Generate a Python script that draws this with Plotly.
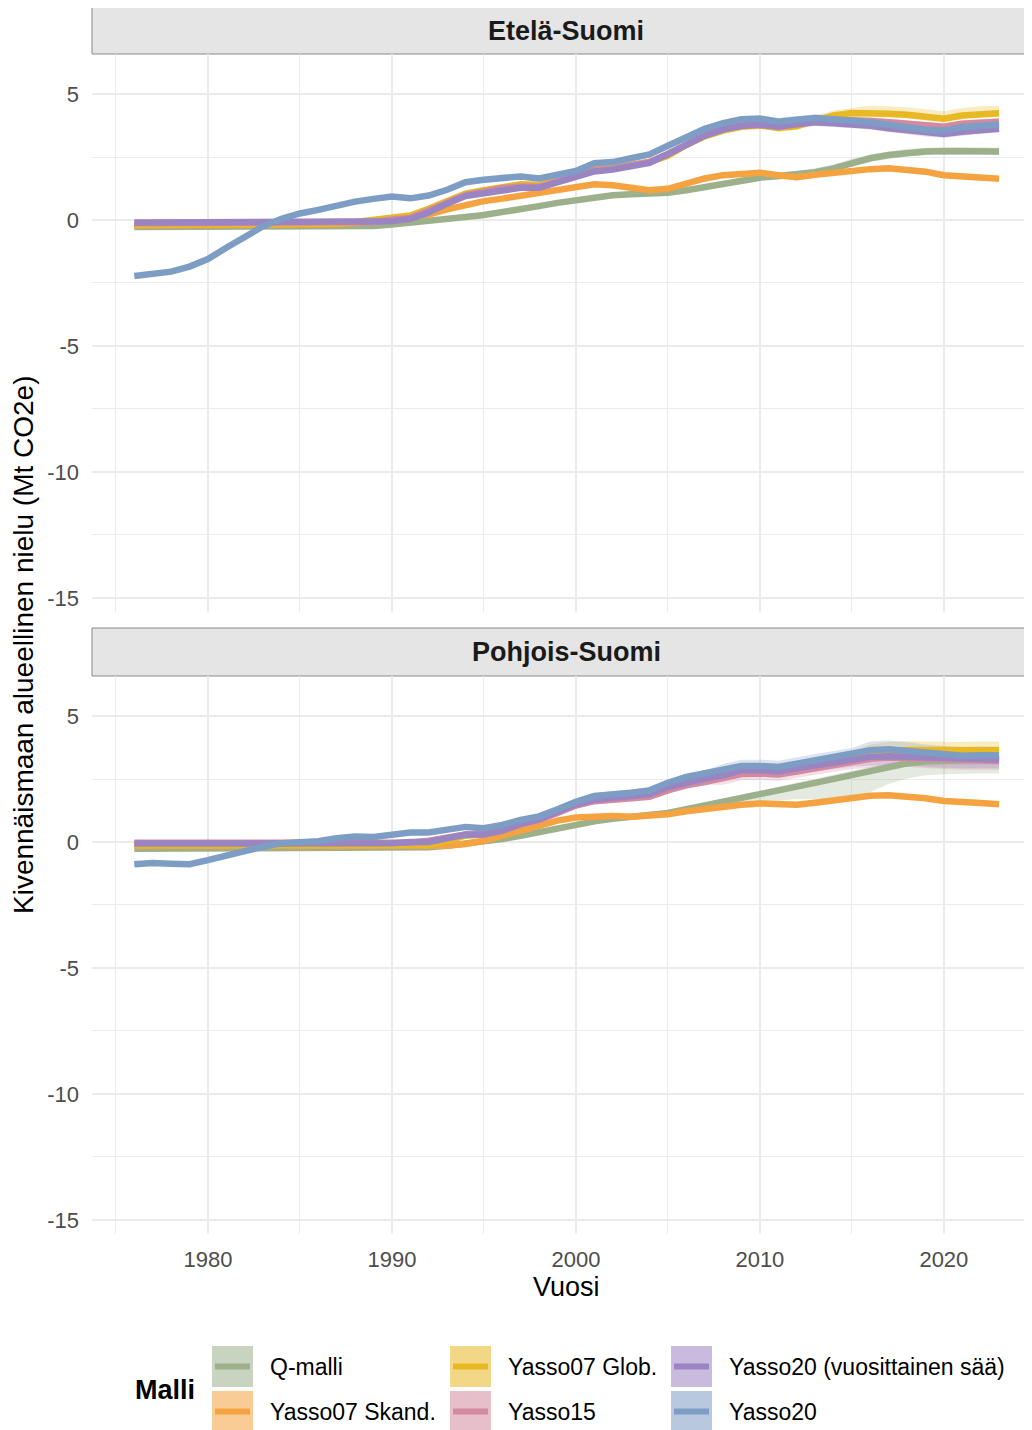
import plotly.graph_objects as go

# ---------------- data ----------------
YEARS = list(range(1976, 2024))
MODELS = ["Q-malli", "Yasso07 Skand.", "Yasso07 Glob.", "Yasso15",
          "Yasso20 (vuosittainen sää)", "Yasso20"]
COLORS = ["#9db08c", "#f4a340", "#e8b923", "#d38aa0", "#9b84c2", "#7d9dc5"]
PANELS = ["Etelä-Suomi", "Pohjois-Suomi"]
Y_TICKS = [5, 0, -5, -10, -15]
Y_TICKTEXT = ["5", "0", "-5", "-10", "-15"]
X_TICKS = [1980, 1990, 2000, 2010, 2020]

# Etelä-Suomi
q_top = [-0.28] * 13 + [-0.24, -0.18, -0.12, -0.05, 0.03, 0.12, 0.2, 0.3, 0.42, 0.55, 0.68, 0.8,
                        0.92, 0.98, 1.02, 1.04, 1.08, 1.18, 1.32, 1.45, 1.58, 1.68, 1.75, 1.8,
                        1.9, 2.05, 2.28, 2.45, 2.58, 2.68, 2.72, 2.74, 2.74, 2.74, 2.72]
skand_top = [-0.22] * 10 + [-0.2, -0.17, -0.12, -0.05, 0.03, 0.1, 0.22, 0.42, 0.6, 0.75, 0.85,
                            0.97, 1.1, 1.22, 1.35, 1.42, 1.38, 1.25, 1.18, 1.24, 1.45, 1.65, 1.78,
                            1.82, 1.88, 1.78, 1.7, 1.8, 1.88, 1.97, 2.02, 2.05, 2.0, 1.92, 1.78,
                            1.72, 1.72, 1.64]
glob_top = [-0.2] * 10 + [-0.18, -0.14, -0.08, 0.0, 0.08, 0.18, 0.45, 0.78, 1.05, 1.18, 1.32,
                          1.42, 1.4, 1.6, 1.8, 2.02, 2.08, 2.18, 2.3, 2.55, 2.98, 3.32, 3.55,
                          3.7, 3.75, 3.65, 3.72, 3.95, 4.15, 4.25, 4.25, 4.22, 4.18, 4.1, 4.02,
                          4.15, 4.22, 4.24]
y15_top = [-0.13] * 13 + [-0.08, 0.02, 0.08, 0.38, 0.72, 1.0, 1.12, 1.27, 1.33, 1.32, 1.53,
                          1.74, 1.98, 2.04, 2.15, 2.3, 2.62, 3.02, 3.36, 3.6, 3.75, 3.8, 3.72,
                          3.83, 3.95, 3.98, 3.97, 3.93, 3.88, 3.82, 3.75, 3.7, 3.82, 3.87, 3.9]
y20v_top = [-0.1] * 14 + [-0.05, 0.05, 0.3, 0.65, 0.95, 1.06, 1.2, 1.28, 1.28, 1.48, 1.68,
                          1.93, 2.0, 2.12, 2.27, 2.62, 3.02, 3.35, 3.6, 3.74, 3.78, 3.7, 3.8,
                          3.88, 3.84, 3.8, 3.74, 3.64, 3.55, 3.47, 3.42, 3.5, 3.57, 3.62]
y20_top = [-2.22, -2.15, -2.05, -1.85, -1.55, -1.1, -0.65, -0.25, 0.05, 0.26, 0.4, 0.57,
           0.73, 0.84, 0.93, 0.86, 0.97, 1.2, 1.5, 1.6, 1.68, 1.73, 1.65, 1.8, 1.95, 2.25,
           2.3, 2.45, 2.6, 2.95, 3.3, 3.62, 3.85, 4.0, 4.03, 3.9, 3.98, 4.05, 4.0, 3.95,
           3.88, 3.78, 3.68, 3.58, 3.55, 3.68, 3.74, 3.78]

# Pohjois-Suomi
q_bot = [-0.27] * 15 + [-0.25, -0.21, -0.15, -0.08, 0.02, 0.12, 0.25, 0.4, 0.55, 0.7, 0.82,
                        0.92, 1.0, 1.06, 1.15, 1.3, 1.46, 1.62, 1.78, 1.92, 2.05, 2.2, 2.35,
                        2.5, 2.66, 2.84, 3.0, 3.12, 3.2, 3.24, 3.26, 3.27, 3.27]
skand_bot = [-0.15] * 18 + [-0.08, 0.05, 0.25, 0.45, 0.68, 0.85, 0.97, 1.03, 1.03, 1.0, 1.02,
                            1.1, 1.22, 1.32, 1.42, 1.48, 1.53, 1.5, 1.48, 1.56, 1.66, 1.76, 1.84,
                            1.86, 1.83, 1.74, 1.63, 1.56, 1.55, 1.5]
glob_bot = [-0.12] * 17 + [0.05, 0.25, 0.3, 0.45, 0.72, 0.92, 1.25, 1.55, 1.75, 1.8, 1.88,
                           1.95, 2.2, 2.4, 2.55, 2.68, 2.85, 2.88, 2.85, 2.98, 3.1, 3.22, 3.35,
                           3.52, 3.62, 3.65, 3.64, 3.62, 3.62, 3.64, 3.64]
y15_bot = [-0.03] * 16 + [0.05, 0.18, 0.3, 0.3, 0.45, 0.7, 0.88, 1.15, 1.45, 1.62, 1.68, 1.75,
                          1.8, 2.05, 2.25, 2.38, 2.52, 2.7, 2.72, 2.68, 2.8, 2.92, 3.03, 3.15,
                          3.3, 3.35, 3.33, 3.28, 3.25, 3.22, 3.22, 3.22]
y20v_bot = [-0.06] * 13 + [-0.09, -0.05, 0.0, 0.0, 0.15, 0.3, 0.3, 0.45, 0.72, 0.9, 1.2, 1.5,
                           1.68, 1.75, 1.83, 1.9, 2.18, 2.38, 2.52, 2.65, 2.85, 2.85, 2.8, 2.93,
                           3.05, 3.15, 3.25, 3.38, 3.4, 3.38, 3.33, 3.3, 3.28, 3.28, 3.28]
y20_bot = [-0.88, -0.83, -0.86, -0.88, -0.72, -0.52, -0.38, -0.18, -0.05, 0.0, 0.03, 0.15,
           0.22, 0.2, 0.32, 0.38, 0.38, 0.48, 0.6, 0.55, 0.68, 0.88, 1.02, 1.3, 1.6, 1.83,
           1.88, 1.96, 2.05, 2.35, 2.58, 2.72, 2.85, 3.02, 3.02, 2.98, 3.11, 3.24, 3.35, 3.48,
           3.64, 3.68, 3.62, 3.52, 3.46, 3.42, 3.44, 3.44]

# ribbon (uncertainty) half-widths
band_thin = [0.05] * 48
band_top = [0.04] * 25 + [0.1] * 10 + [0.15] * 13
band_top_glob_hi = [0.04] * 25 + [0.1] * 10 + [0.2] * 5 + [0.3] * 8
band_bot = [0.04] * 22 + [0.12] * 10 + [0.25] * 8 + [0.35] * 8
band_bot_q_lo = [0.03] * 29 + [0.05, 0.1, 0.15, 0.2, 0.25, 0.3, 0.4, 0.5, 0.65, 0.8, 0.95,
                               0.85, 0.7, 0.6, 0.55, 0.55, 0.55, 0.55, 0.55]

TOP_VALUES = [q_top, skand_top, glob_top, y15_top, y20v_top, y20_top]
TOP_LO = [band_top, band_thin, band_top, band_top, band_top, band_top]
TOP_HI = [band_top, band_thin, band_top_glob_hi, band_top, band_top, band_top]
BOT_VALUES = [q_bot, skand_bot, glob_bot, y15_bot, y20v_bot, y20_bot]
BOT_LO = [band_bot_q_lo, band_thin, band_bot, band_bot, band_bot, band_bot]
BOT_HI = [band_top, band_thin, band_bot, band_bot, band_bot, band_bot]

# ---------------- layout helpers ----------------
# The page body has an 8px margin, so figure pixel = page pixel - 8.
OFF = 8
W, H = 1024, 1422
ML, MR, MT, MB = 84, 0, 0, 196
PW, PH = W - ML - MR, H - MT - MB
FONT = "Liberation Sans, Arial, sans-serif"


def px_x(page_px):
    return (page_px - OFF - ML) / PW


def px_y(page_py):
    return (H - MB - (page_py - OFF)) / PH


def rgba(hexc, a):
    h = hexc.lstrip("#")
    r, g, b = int(h[0:2], 16), int(h[2:4], 16), int(h[4:6], 16)
    return f"rgba({r},{g},{b},{a})"


def blend(hexc, a):
    h = hexc.lstrip("#")
    c = [int(h[i:i + 2], 16) for i in (0, 2, 4)]
    c = [round(v * a + 255 * (1 - a)) for v in c]
    return "#%02x%02x%02x" % tuple(c)


fig = go.Figure()

panel_data = [(TOP_VALUES, TOP_LO, TOP_HI, "x", "y"),
              (BOT_VALUES, BOT_LO, BOT_HI, "x2", "y2")]

for vals, los, his, xa, ya in panel_data:
    # ribbons first
    for name, col, v, lo, hi in zip(MODELS, COLORS, vals, los, his):
        lower = [a - d for a, d in zip(v, lo)]
        upper = [a + d for a, d in zip(v, hi)]
        fig.add_trace(go.Scatter(x=YEARS, y=lower, mode="lines", line=dict(width=0),
                                 showlegend=False, hoverinfo="skip", xaxis=xa, yaxis=ya))
        fig.add_trace(go.Scatter(x=YEARS, y=upper, mode="lines", line=dict(width=0),
                                 fill="tonexty", fillcolor=rgba(col, 0.27),
                                 showlegend=False, hoverinfo="skip", xaxis=xa, yaxis=ya))
    # lines on top
    for name, col, v in zip(MODELS, COLORS, vals):
        fig.add_trace(go.Scatter(x=YEARS, y=v, mode="lines", name=name,
                                 line=dict(color=col, width=6.5),
                                 showlegend=False, xaxis=xa, yaxis=ya))

XR = [1973.7, 2024.79]
YR = [-15.56, 6.59]
grid = "#ebebeb"

common_x = dict(range=XR, tickvals=X_TICKS, showgrid=True, gridcolor=grid, gridwidth=2,
                zeroline=False, showline=False, ticks="",
                minor=dict(dtick=5, tick0=1975, showgrid=True, gridcolor=grid, gridwidth=1),
                tickfont=dict(family=FONT, size=22, color="#4d4d4d"))
common_y = dict(range=YR, tickvals=Y_TICKS, ticktext=Y_TICKTEXT, showgrid=True,
                gridcolor=grid, gridwidth=2, zeroline=False, showline=False, ticks="",
                minor=dict(dtick=2.5, tick0=0, showgrid=True, gridcolor=grid, gridwidth=1),
                tickfont=dict(family=FONT, size=22, color="#4d4d4d"),
                ticklabelstandoff=12)

shapes = []
annotations = []

# strips
strip_rows = [(7, 54), (628, 676)]
for (t, b), title in zip(strip_rows, PANELS):
    shapes.append(dict(type="rect", xref="paper", yref="paper", x0=0, x1=px_x(1041),
                       y0=px_y(b), y1=px_y(t), fillcolor="#e5e5e5",
                       line=dict(color="#8a8a8a", width=1), layer="below"))
    annotations.append(dict(text=f"<b>{title}</b>", xref="paper", yref="paper",
                            x=px_x(566), y=px_y((t + b) / 2), showarrow=False,
                            xanchor="center", yanchor="middle",
                            font=dict(family=FONT, size=27, color="#1a1a1a")))

# axis titles
annotations.append(dict(text="Vuosi", xref="paper", yref="paper", x=px_x(566), y=px_y(1287),
                        showarrow=False, xanchor="center", yanchor="middle",
                        font=dict(family=FONT, size=27, color="#000000")))
annotations.append(dict(text="Kivennäismaan alueellinen nielu (Mt CO2e)", xref="paper",
                        yref="paper", x=px_x(23), y=px_y(645), textangle=-90,
                        showarrow=False, xanchor="center", yanchor="middle",
                        font=dict(family=FONT, size=28, color="#000000")))

# legend (ggplot-style, two rows x three columns, column-major)
annotations.append(dict(text="<b>Malli</b>", xref="paper", yref="paper", x=px_x(133),
                        y=px_y(1390), showarrow=False, xanchor="left", yanchor="middle",
                        font=dict(family=FONT, size=27, color="#000000")))
key_x = [212, 450, 671]
text_x = [268, 506, 727]
row_y = [1346, 1391]
KEY = 41
for i, (name, col) in enumerate(zip(MODELS, COLORS)):
    c, r = i // 2, i % 2
    x0, y0 = key_x[c], row_y[r]
    shapes.append(dict(type="rect", xref="paper", yref="paper", x0=px_x(x0),
                       x1=px_x(x0 + KEY), y0=px_y(y0 + KEY), y1=px_y(y0),
                       fillcolor=blend(col, 0.55), line=dict(width=0)))
    shapes.append(dict(type="line", xref="paper", yref="paper", x0=px_x(x0 + 3),
                       x1=px_x(x0 + KEY - 3), y0=px_y(y0 + KEY / 2), y1=px_y(y0 + KEY / 2),
                       line=dict(color=col, width=6)))
    annotations.append(dict(text=name, xref="paper", yref="paper", x=px_x(text_x[c]),
                            y=px_y(y0 + KEY / 2), showarrow=False, xanchor="left",
                            yanchor="middle",
                            font=dict(family=FONT, size=23, color="#000000")))

fig.update_layout(
    width=W, height=H, autosize=False,
    margin=dict(l=ML, r=MR, t=MT, b=MB),
    paper_bgcolor="white", plot_bgcolor="white",
    showlegend=False,
    xaxis=dict(common_x, domain=[0, 1], anchor="y", showticklabels=False),
    yaxis=dict(common_y, domain=[px_y(612), px_y(54)], anchor="x"),
    xaxis2=dict(common_x, domain=[0, 1], anchor="y2", showticklabels=True,
                ticklabelstandoff=10),
    yaxis2=dict(common_y, domain=[px_y(1234), px_y(676)], anchor="x2"),
    shapes=shapes,
    annotations=annotations,
    font=dict(family=FONT),
)

fig.write_html("out.html")
